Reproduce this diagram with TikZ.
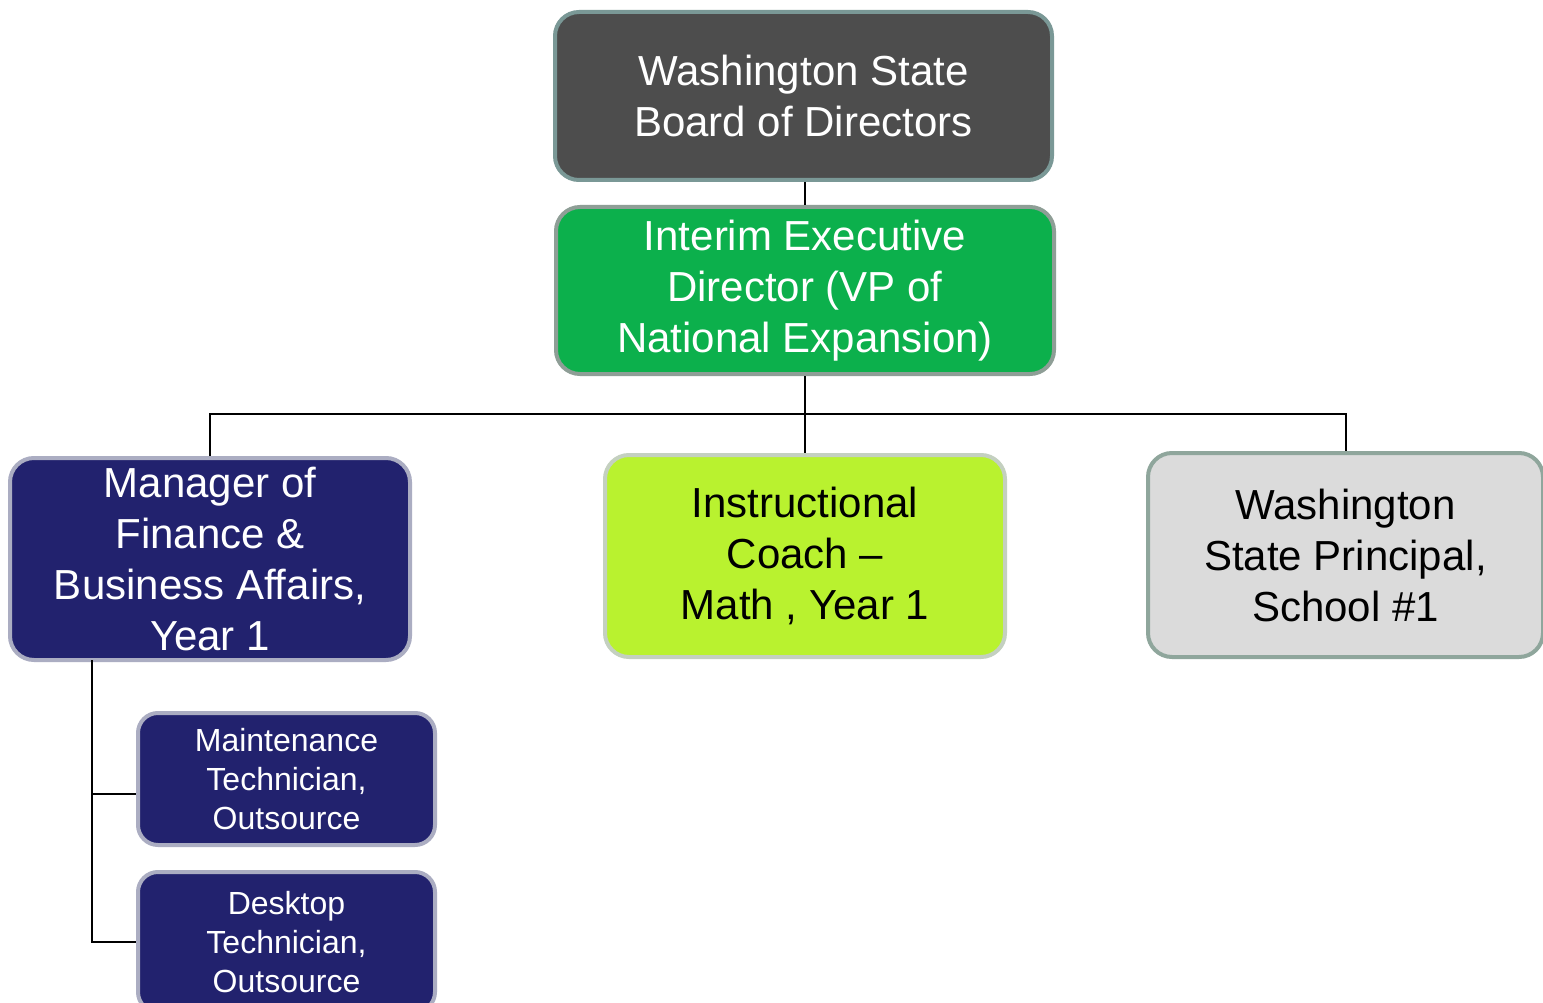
\documentclass[tikz,border=0pt]{standalone}
\usepackage{fontspec}
\setmainfont{Liberation Sans}
\definecolor{boardfill}{HTML}{4D4D4D}
\definecolor{boardline}{HTML}{7A9896}
\definecolor{greenfill}{HTML}{0CB04C}
\definecolor{greenline}{HTML}{8E9E96}
\definecolor{navyfill}{HTML}{22226E}
\definecolor{navyline}{HTML}{ABADC2}
\definecolor{limefill}{HTML}{B9F22F}
\definecolor{limeline}{HTML}{C4D0C0}
\definecolor{greyfill}{HTML}{DBDBDB}
\definecolor{greyline}{HTML}{8FA69C}
\tikzset{
  orgbox/.style={rectangle, rounded corners=24pt, line width=4pt, inner sep=0pt,
    align=center, font=\fontsize{42}{51}\selectfont},
  smallbox/.style={orgbox, rounded corners=20pt, font=\fontsize{32}{39}\selectfont},
  link/.style={line width=2pt, black}
}
\begin{document}
\begin{tikzpicture}[x=1pt,y=-1pt]
\useasboundingbox (0,0) rectangle (1543,1003);
\fill[white] (0,0) rectangle (1543,1003);
\node[orgbox, draw=boardline, fill=boardfill, text=white, minimum width=497pt, minimum height=168pt]
  (board) at (803.5,96) {Washington State\\Board of Directors};
\node[orgbox, draw=greenline, fill=greenfill, text=white, minimum width=498pt, minimum height=167pt]
  (ied) at (805,290.5) {Interim Executive\\Director (VP of\\National Expansion)};
\node[orgbox, draw=navyline, fill=navyfill, text=white, minimum width=400pt, minimum height=202pt]
  (mgr) at (210,559) {Manager of\\Finance \&\\Business Affairs,\\Year 1};
\node[orgbox, draw=limeline, fill=limefill, text=black, minimum width=400pt, minimum height=202pt]
  (coach) at (805,556) {Instructional\\Coach –\\Math , Year 1};
\node[orgbox, draw=greyline, fill=greyfill, text=black, minimum width=395pt, minimum height=204pt]
  (prin) at (1345.5,555) {Washington\\State Principal,\\School \#1};
\node[smallbox, draw=navyline, fill=navyfill, text=white, minimum width=297pt, minimum height=132pt]
  (maint) at (286.5,779) {Maintenance\\Technician,\\Outsource};
\node[smallbox, draw=navyline, fill=navyfill, text=white, minimum width=297pt, minimum height=140pt]
  (desk) at (286.5,942) {Desktop\\Technician,\\Outsource};
\coordinate (bus) at (805,414);
\coordinate (mgrtrunk) at (92,660);
\coordinate (mainttap) at (92,794);
\draw[link] (ied.north |- board.south) -- (ied.north);
\draw[link] (ied.south) -- (coach.north);
\draw[link] (mgr.north) |- (bus) -| (prin.north);
\draw[link] (mgrtrunk) |- (desk.west);
\draw[link] (mainttap) -- (mainttap -| maint.west);
\end{tikzpicture}
\end{document}
